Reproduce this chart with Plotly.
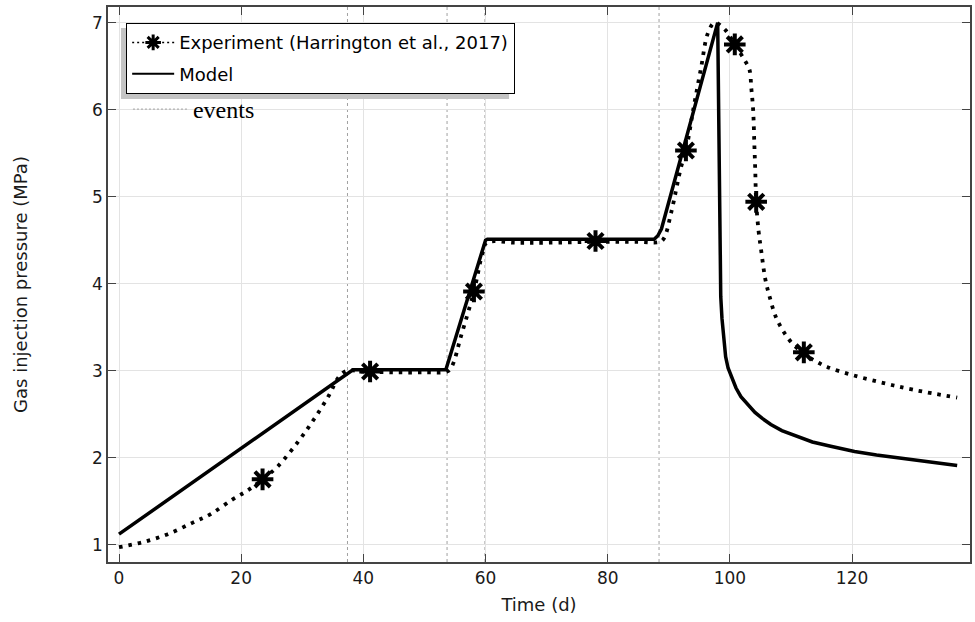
import plotly.graph_objects as go

# ---------------- data ----------------
exp_t = [0, 4, 8, 12, 15, 18.6, 21, 23.5, 26, 29.5, 32, 34.4, 36, 37.3, 40, 45, 50, 53.7,
         54.5, 56, 58.1, 59.5, 60.2, 65, 70, 78, 85, 88.5, 89.2, 90.4, 92, 92.8, 94, 95.3,
         96.4, 97.5, 99.2, 100.8, 102.4, 103.2, 103.5, 103.8, 104.0, 104.15, 104.3, 104.7,
         105.1, 105.8, 106.5, 107.5, 108.6, 110, 112, 114, 116, 120, 125, 130, 137.2]
exp_p = [0.97, 1.03, 1.12, 1.25, 1.35, 1.52, 1.62, 1.75, 1.9, 2.2, 2.45, 2.72, 2.93, 3.0, 2.99,
         2.98, 2.98, 2.99, 3.05, 3.4, 3.91, 4.35, 4.47, 4.47, 4.47, 4.48, 4.48, 4.48, 4.52,
         4.82, 5.34, 5.53, 6.0, 6.49, 6.88, 7.0, 6.92, 6.75, 6.57, 6.46, 6.25, 6.0, 5.6, 5.3,
         4.94, 4.6, 4.39, 4.05, 3.85, 3.62, 3.47, 3.33, 3.2, 3.11, 3.04, 2.95, 2.86, 2.78, 2.69]

star_t = [23.5, 41.1, 58.1, 78.0, 92.8, 100.8, 104.3, 112.1]
star_p = [1.75, 2.99, 3.91, 4.49, 5.53, 6.75, 4.94, 3.21]

model_t = [0, 37.5, 38.3, 53.5, 60.0, 60.3, 87.6, 88.2, 88.8, 98.0, 98.15, 98.3, 98.4, 98.5,
           98.7, 98.9, 99.1, 99.3, 99.7, 100.2, 101.0, 101.8, 103.0, 104.1, 105.3, 106.7,
           108.5, 111.1, 113.5, 116.5, 120.4, 124.0, 127.4, 132.0, 137.2]
model_p = [1.12, 2.98, 3.01, 3.01, 4.5, 4.51, 4.51, 4.55, 4.63, 7.0, 6.0, 5.0, 4.3, 3.85,
           3.6, 3.44, 3.28, 3.16, 3.03, 2.93, 2.8, 2.70, 2.6, 2.52, 2.45, 2.38,
           2.31, 2.24, 2.18, 2.13, 2.07, 2.03, 2.0, 1.95, 1.91]

event_t = [37.4, 53.7, 59.9, 88.4]

x_ticks = [0, 20, 40, 60, 80, 100, 120]
y_ticks = [1, 2, 3, 4, 5, 6, 7]

exp_name = "Experiment (Harrington et al., 2017)"
model_name = "Model"
event_name = "events"

# ---------------- figure ----------------
FONT = "DejaVu Sans"
fig = go.Figure()

for t in event_t:
    fig.add_vline(x=t, line=dict(color="#a0a0a0", width=1, dash="3px,3px"), layer="below")

fig.add_trace(go.Scatter(x=model_t, y=model_p, mode="lines",
                         line=dict(color="black", width=3.5), showlegend=False))
fig.add_trace(go.Scatter(x=exp_t, y=exp_p, mode="lines",
                         line=dict(color="black", width=3.8, dash="3.5px,6px"),
                         line_shape="spline", showlegend=False))
fig.add_trace(go.Scatter(x=star_t, y=star_p, mode="markers",
                         marker=dict(symbol="asterisk-open", size=18, color="black",
                                     line=dict(color="black", width=4)),
                         showlegend=False))

# legend entries
fig.add_trace(go.Scatter(x=[None], y=[None], mode="lines+markers", name=exp_name,
                         legendgroup="exp",
                         line=dict(color="black", width=1.5, dash="2px,3px"),
                         marker=dict(symbol="asterisk-open", size=13, color="black",
                                     line=dict(color="black", width=3))))
fig.add_trace(go.Scatter(x=[None], y=[None], mode="lines", name=model_name,
                         legendgroup="model",
                         line=dict(color="black", width=2)))
fig.add_trace(go.Scatter(x=[None], y=[None], mode="lines", name=event_name,
                         line=dict(color="#a0a0a0", width=1, dash="2px,2px"),
                         legend="legend2"))

W, H = 975, 622
L, R, T, B = 108, 3, 7, 60
pw, ph = W - L - R, H - T - B


def px(x):
    return (x - L) / pw


def py(y):
    return (H - B - y) / ph


# legend shadow
fig.add_shape(type="rect", xref="paper", yref="paper",
              x0=px(121), x1=px(510), y0=py(99), y1=py(28),
              fillcolor="#c4c4c4", line=dict(width=0), layer="above")

axis_common = dict(
    showline=True, linecolor="#444444", linewidth=1.5, mirror="ticks",
    ticks="inside", ticklen=8, tickwidth=1.2, tickcolor="#444444",
    showgrid=True, gridcolor="#e3e3e3", gridwidth=1, zeroline=False,
    tickfont=dict(family=FONT, size=17, color="#1a1a1a"),
)

fig.update_layout(
    width=W, height=H,
    margin=dict(l=L, r=R, t=T, b=B),
    paper_bgcolor="white", plot_bgcolor="white",
    xaxis=dict(range=[-1.8, 139.3], tickvals=x_ticks,
               title=dict(text="Time (d)", font=dict(family=FONT, size=18, color="#1a1a1a"),
                          standoff=11),
               **axis_common),
    yaxis=dict(range=[0.8, 7.18], tickvals=y_ticks,
               title=dict(text="Gas injection pressure (MPa)",
                          font=dict(family=FONT, size=18, color="#1a1a1a"), standoff=60),
               **axis_common),
    legend=dict(x=px(126), y=py(23), xanchor="left", yanchor="top",
                bgcolor="white", bordercolor="black", borderwidth=1.2,
                font=dict(family=FONT, size=18, color="black"),
                tracegroupgap=5, itemwidth=42),
    legend2=dict(x=px(128), y=py(87), xanchor="left", yanchor="top",
                 bgcolor="rgba(0,0,0,0)", borderwidth=0,
                 font=dict(family="Liberation Serif", size=24, color="black"),
                 itemwidth=55),
    showlegend=True,
)

fig.write_html("out.html")
